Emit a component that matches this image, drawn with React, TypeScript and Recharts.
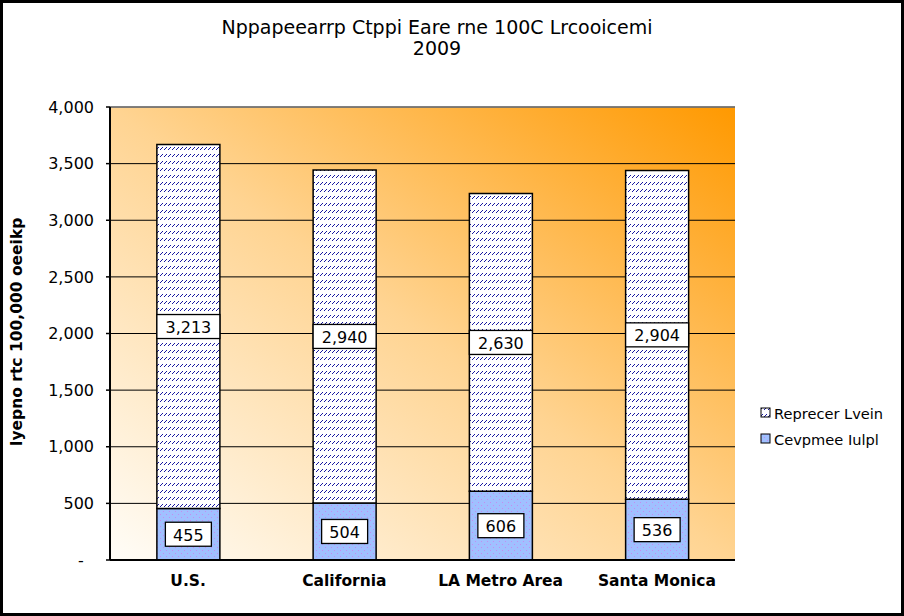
import React from 'react';
import { BarChart, Bar, XAxis, YAxis, CartesianGrid, LabelList, ReferenceLine } from 'recharts';

const categories = ['U.S.', 'California', 'LA Metro Area', 'Santa Monica'];
const lowerValues = [455, 504, 606, 536];
const upperValues = [3213, 2940, 2630, 2904];
const lowerName = 'Cevpmee Iulpl';
const upperName = 'Reprecer Lvein';
const yTicks = [0, 500, 1000, 1500, 2000, 2500, 3000, 3500, 4000];
const boundaryTicks = [0, 1, 2, 3, 4];
const titleLines = ['Nppapeearrp Ctppi Eare rne 100C Lrcooicemi', '2009'];
const yAxisTitle = 'Iyepno rtc 100,000 oeeikp';

const data = categories.map((name, i) => ({ name, lower: lowerValues[i], upper: upperValues[i] }));

const FONT = "Verdana, 'DejaVu Sans', sans-serif";

const fmt = (v: number) => (v === 0 ? '-\u00A0\u00A0' : v.toLocaleString('en-US'));

const makeLabel = (full: boolean) => (props: any) => {
  const vb = props.viewBox && props.viewBox.width != null ? props.viewBox : props;
  const x = Number(vb.x), y = Number(vb.y), width = Math.abs(Number(vb.width)), height = Number(vb.height);
  const cx = x + width / 2;
  const cy = y + height / 2;
  const w = full ? width : 46;
  const h = 24;
  return (
    <g>
      <rect x={cx - w / 2} y={cy - h / 2} width={w} height={h} fill="#ffffff" stroke="#000000" strokeWidth={1.3} />
      <text x={cx} y={cy + 1} textAnchor="middle" dominantBaseline="central" fontSize={16} fontFamily={FONT} fill="#000">
        {Number(props.value).toLocaleString('en-US')}
      </text>
    </g>
  );
};

const Defs = () => (
  <svg width={0} height={0} style={{ position: 'absolute' }}>
    <defs>
      <linearGradient id="plotBg" x1="0" y1="1" x2="1" y2="0">
        <stop offset="0%" stopColor="#FFFDF8" />
        <stop offset="50%" stopColor="#FFD492" />
        <stop offset="100%" stopColor="#FF9900" />
      </linearGradient>
      <pattern id="hatch" patternUnits="userSpaceOnUse" width="4" height="7">
        <rect width="4" height="7" fill="#ffffff" />
        <g fill="#1818a0" shapeRendering="crispEdges">
          <rect x="0" y="2" width="1" height="1" />
          <rect x="1" y="1" width="1" height="1" />
          <rect x="2" y="0" width="1" height="1" />
        </g>
      </pattern>
      <pattern id="dots" patternUnits="userSpaceOnUse" width="6" height="6">
        <rect width="6" height="6" fill="#A0C0FF" />
        <rect x="1" y="1" width="1" height="1" fill="#C58BF0" />
        <rect x="4" y="4" width="1" height="1" fill="#C58BF0" />
      </pattern>
    </defs>
  </svg>
);

const LegendBox = () => (
  <div style={{ position: 'absolute', left: 760, top: 400, fontFamily: FONT, fontSize: 14.6, color: '#000' }}>
    {[{ name: upperName, fill: 'url(#hatch)' }, { name: lowerName, fill: 'url(#dots)' }].map((it) => (
      <div key={it.name} style={{ display: 'flex', alignItems: 'center', height: 26 }}>
        <svg width={12} height={12} style={{ marginRight: 2 }}>
          <rect x={1} y={1} width={9} height={9} fill={it.fill} stroke="#000" strokeWidth={1} />
        </svg>
        <span>{it.name}</span>
      </div>
    ))}
  </div>
);

export default function App() {
  return (
    <div style={{ position: 'absolute', left: 0, top: 0, width: 904, height: 616, background: '#fff', fontFamily: FONT }}>
      <Defs />
      <div style={{ position: 'absolute', left: 0, top: 17, width: 874, textAlign: 'center', fontSize: 19, lineHeight: '21px', color: '#000' }}>
        {titleLines.map((t) => (
          <div key={t}>{t}</div>
        ))}
      </div>
      <div
        style={{
          position: 'absolute', left: 17, top: 332, transform: 'translate(-50%, -50%) rotate(-90deg)',
          whiteSpace: 'nowrap', fontWeight: 'bold', fontSize: 15.5, color: '#000',
        }}
      >
        {yAxisTitle}
      </div>
      <BarChart
        width={904}
        height={616}
        data={data}
        margin={{ top: 107, right: 169, bottom: 25, left: 40 }}
        barCategoryGap="30%"
      >
        <CartesianGrid vertical={false} stroke="#000" strokeWidth={1} fill="url(#plotBg)" fillOpacity={1} />
        <ReferenceLine y={4000} stroke="#808080" strokeWidth={1.5} />
        <XAxis
          xAxisId="bounds"
          type="number"
          domain={[0, 4]}
          ticks={boundaryTicks}
          tick={false}
          tickSize={5}
          height={0}
          axisLine={false}
          tickLine={{ stroke: '#000', strokeWidth: 1.5 }}
        />
        <XAxis
          dataKey="name"
          height={31}
          tickSize={0}
          tickMargin={15}
          tickLine={false}
          axisLine={{ stroke: '#000', strokeWidth: 2 }}
          tick={{ fill: '#000', fontSize: 15.5, fontWeight: 'bold', fontFamily: FONT }}
          interval={0}
        />
        <YAxis
          width={70}
          domain={[0, 4000]}
          ticks={yTicks}
          interval={0}
          tickFormatter={fmt}
          tickSize={4}
          tickMargin={12}
          axisLine={{ stroke: '#000', strokeWidth: 2 }}
          tickLine={{ stroke: '#000', strokeWidth: 1.5 }}
          tick={{ fill: '#000', fontSize: 16, fontFamily: FONT }}
        />
        <YAxis
          yAxisId="right"
          orientation="right"
          width={0}
          domain={[0, 4000]}
          tick={false}
          tickLine={false}
          axisLine={{ stroke: '#808080', strokeWidth: 2 }}
        />
        <Bar dataKey="lower" name={lowerName} stackId="s" fill="url(#dots)" stroke="#000" strokeWidth={1.5} isAnimationActive={false}>
          <LabelList dataKey="lower" content={makeLabel(false)} />
        </Bar>
        <Bar dataKey="upper" name={upperName} stackId="s" fill="url(#hatch)" stroke="#000" strokeWidth={1.5} isAnimationActive={false}>
          <LabelList dataKey="upper" content={makeLabel(true)} />
        </Bar>
      </BarChart>
      <LegendBox />
      <div style={{ position: 'absolute', left: 0, top: 0, width: 904, height: 616, boxSizing: 'border-box', border: '3px solid #000', pointerEvents: 'none' }} />
    </div>
  );
}
